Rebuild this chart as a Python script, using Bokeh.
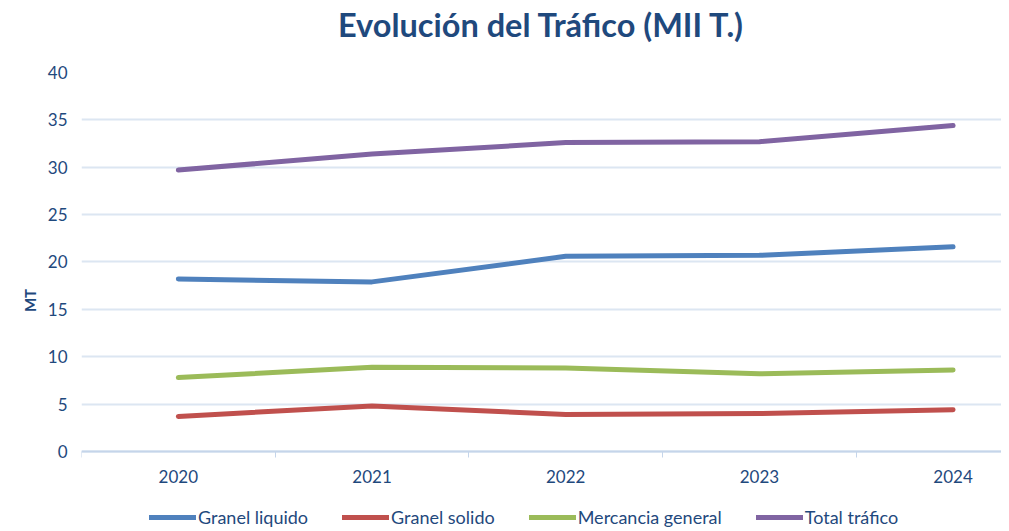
from bokeh.plotting import figure
from bokeh.models import Range1d, FixedTicker, Legend, LegendItem, ColumnDataSource, Title
from bokeh.embed import file_html
from bokeh.resources import INLINE

years = ["2020", "2021", "2022", "2023", "2024"]
granel_liquido = [18.2, 17.9, 20.6, 20.7, 21.6]
granel_solido = [3.7, 4.8, 3.9, 4.0, 4.4]
mercancia_general = [7.8, 8.9, 8.8, 8.2, 8.6]
total_trafico = [29.7, 31.4, 32.6, 32.7, 34.4]

series_names = ["Granel liquido", "Granel solido", "Mercancia general", "Total tráfico"]
series_values = [granel_liquido, granel_solido, mercancia_general, total_trafico]
colors = ["#4f81bd", "#c0504d", "#9bbb59", "#8064a2"]
y_ticks = [0, 5, 10, 15, 20, 25, 30, 35, 40]
title_text = "Evolución del Tráfico (MII T.)"

FONT = "Lato"
TXT = "#1f497d"

xs = list(range(len(years)))

p = figure(width=1001, height=528, output_backend="svg", toolbar_location=None, title=None,
           x_range=Range1d(-0.5, 4.25), y_range=Range1d(-8.13, 40),
           min_border_left=81, min_border_right=0, min_border_top=72, min_border_bottom=0)
p.outline_line_color = None
p.background_fill_color = "white"
p.border_fill_color = "white"

# spacer between frame and title (first "above" item sits next to the frame)
p.add_layout(Title(text=" ", text_font=FONT, text_font_size="10px", standoff=15), "above")
p.add_layout(Title(text=title_text, align="center", text_font=FONT, text_font_size="32.5px",
                   text_font_style="bold", text_color=TXT, standoff=0, offset=0), "above")

items = []
for name, vals, c in zip(series_names, series_values, colors):
    src = ColumnDataSource(dict(x=xs, y=vals))
    r = p.line("x", "y", source=src, line_color=c, line_width=5, line_cap="round", line_join="round")
    items.append(LegendItem(label=name, renderers=[r]))

# x axis, drawn at y = 0 so the legend can sit below it
p.xaxis.fixed_location = 0
p.xaxis.ticker = FixedTicker(ticks=xs, minor_ticks=[i + 0.5 for i in range(-1, len(years))])
p.xaxis.major_label_overrides = {i: y for i, y in enumerate(years)}
p.xaxis.major_tick_out = 0
p.xaxis.major_tick_in = 0
p.xaxis.minor_tick_out = 6
p.xaxis.minor_tick_in = 0
p.xaxis.minor_tick_line_color = "#c5d5ea"
p.xaxis.axis_line_color = "#c5d5ea"
p.xaxis.axis_line_width = 2
p.xaxis.major_label_text_font = FONT
p.xaxis.major_label_text_font_size = "17px"
p.xaxis.major_label_text_color = TXT
p.xaxis.major_label_standoff = 13

# y axis
p.yaxis.ticker = FixedTicker(ticks=y_ticks)
p.yaxis.axis_line_color = None
p.yaxis.major_tick_line_color = None
p.yaxis.minor_tick_line_color = None
p.yaxis.major_label_text_font = FONT
p.yaxis.major_label_text_font_size = "17px"
p.yaxis.major_label_text_color = TXT
p.yaxis.major_label_standoff = 8
p.yaxis.axis_label = "MT"
p.yaxis.axis_label_text_font = FONT
p.yaxis.axis_label_text_font_size = "15px"
p.yaxis.axis_label_text_font_style = "bold"
p.yaxis.axis_label_text_color = TXT
p.yaxis.axis_label_standoff = 6

p.xgrid.grid_line_color = None
p.ygrid.ticker = FixedTicker(ticks=y_ticks)
p.ygrid.grid_line_color = "#dce6f2"
p.ygrid.grid_line_width = 2

legend = Legend(items=items, orientation="horizontal", location=(68, 0),
                label_text_font=FONT, label_text_font_size="18px", label_text_color=TXT,
                glyph_width=47, glyph_height=6, label_standoff=2, spacing=34,
                padding=0, margin=0, border_line_color=None, background_fill_alpha=0)
p.add_layout(legend, "center")

open("out.html", "w").write(file_html(p, INLINE))
